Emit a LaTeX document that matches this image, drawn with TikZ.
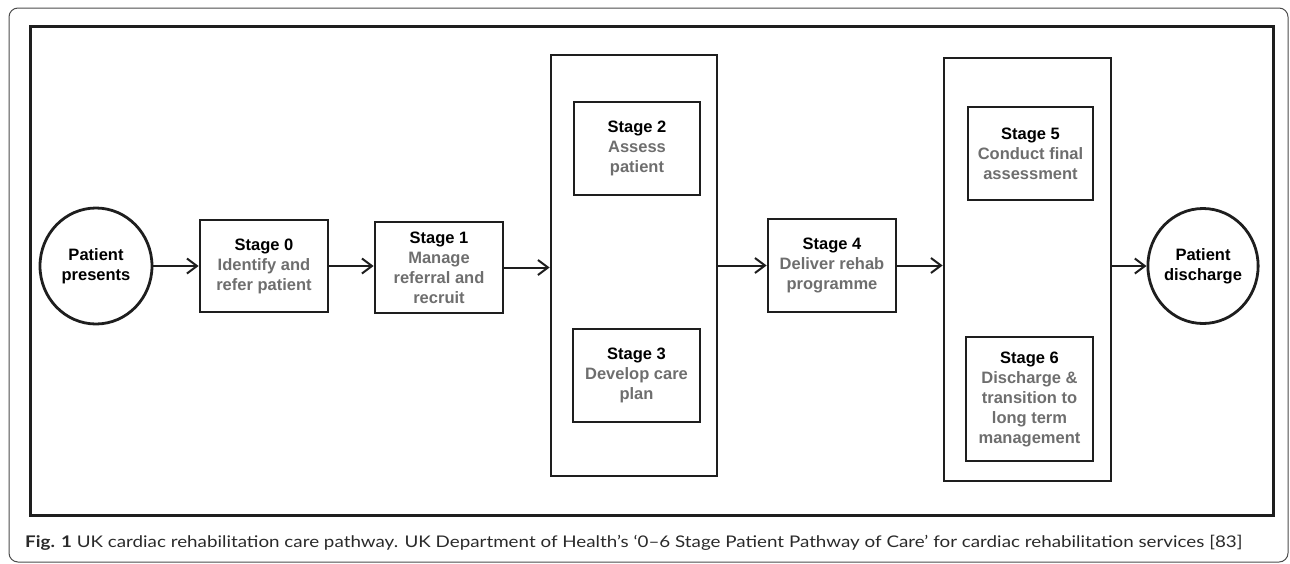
\documentclass[tikz,border=0pt]{standalone}
\usepackage{fontspec}
\usepackage{graphicx}
\setmainfont{Liberation Sans}
\newfontfamily\capfont{Lato}
\usetikzlibrary{arrows.meta,shapes.geometric}
\definecolor{descgray}{HTML}{6E6E6E}
\definecolor{linedark}{HTML}{1E1E1E}
\definecolor{capgray}{HTML}{2A2A2A}
\begin{document}
\begin{tikzpicture}[x=1pt,y=-1pt,
  stagebox/.style={draw=linedark, line width=2.8pt, inner sep=0pt, align=center,
    font=\fontsize{16.5}{20}\selectfont\bfseries},
  groupbox/.style={draw=linedark, line width=2.8pt, inner sep=0pt},
  terminal/.style={ellipse, draw=linedark, line width=2.8pt, inner sep=0pt, align=center,
    font=\fontsize{16.5}{20}\selectfont\bfseries},
  flow/.style={draw=linedark, line width=2pt, -{Straight Barb[length=10pt,width=15pt,line width=2pt]}},
  desc/.style={text=descgray}]
\useasboundingbox (0,0) rectangle (1290,563);
% outer frame
\draw[draw=black!70, line width=1pt, rounded corners=9pt] (9,8) rectangle (1288,562);
% inner frame
\draw[draw=linedark, line width=3pt] (30,26) rectangle (1273,515);

\node[terminal, minimum width=112pt, minimum height=116pt] (pp) at (96,266) {Patient\\presents};
\node[stagebox, minimum width=128pt, minimum height=92pt] (s0) at (264,266)
  {Stage 0\\\textcolor{descgray}{Identify and}\\\textcolor{descgray}{refer patient}};
\node[stagebox, minimum width=128pt, minimum height=91pt] (s1) at (439,267.5)
  {Stage 1\\\textcolor{descgray}{Manage}\\\textcolor{descgray}{referral and}\\\textcolor{descgray}{recruit}};
\node[groupbox, minimum width=166pt, minimum height=421pt] (g1) at (634,265.5) {};
\node[stagebox, minimum width=126pt, minimum height=93pt] (s2) at (637,148.5)
  {Stage 2\\\textcolor{descgray}{Assess}\\\textcolor{descgray}{patient}};
\node[stagebox, minimum width=127pt, minimum height=93pt] (s3) at (636.5,375.5)
  {Stage 3\\\textcolor{descgray}{Develop care}\\\textcolor{descgray}{plan}};
\node[stagebox, minimum width=128pt, minimum height=93pt] (s4) at (832,265.5)
  {Stage 4\\\textcolor{descgray}{Deliver rehab}\\\textcolor{descgray}{programme}};
\node[groupbox, minimum width=167pt, minimum height=423pt] (g2) at (1027.5,269.5) {};
\node[stagebox, minimum width=125pt, minimum height=93pt] (s5) at (1030.5,153.5)
  {Stage 5\\\textcolor{descgray}{Conduct final}\\\textcolor{descgray}{assessment}};
\node[stagebox, minimum width=127pt, minimum height=124pt] (s6) at (1029.5,399)
  {Stage 6\\\textcolor{descgray}{Discharge \&}\\\textcolor{descgray}{transition to}\\\textcolor{descgray}{long term}\\\textcolor{descgray}{management}};
\node[terminal, minimum width=102pt, minimum height=115pt] (pd) at (1203,266) {Patient\\discharge};

\draw[flow] (pp.east) -- (s0.west);
\draw[flow] (s0.east) -- (s0.east -| s1.west);
\draw[flow] (s1.east) -- (s1.east -| g1.west);
\draw[flow] (g1.east |- s4.west) -- (s4.west);
\draw[flow] (s4.east) -- (s4.east -| g2.west);
\draw[flow] (g2.east |- pd.west) -- (pd.west);

\node[anchor=base west, inner sep=0pt, text=capgray] (cap) at (25,547)
  {\resizebox{1217pt}{11.5pt}{\capfont\fontsize{19}{22}\selectfont\smash{\textbf{Fig. 1} UK cardiac rehabilitation care pathway. UK Department of Health’s ‘0–6 Stage Patient Pathway of Care’ for cardiac rehabilitation services [83]}\rule{0pt}{\fontcharht\font`F}}};
\end{tikzpicture}
\end{document}
